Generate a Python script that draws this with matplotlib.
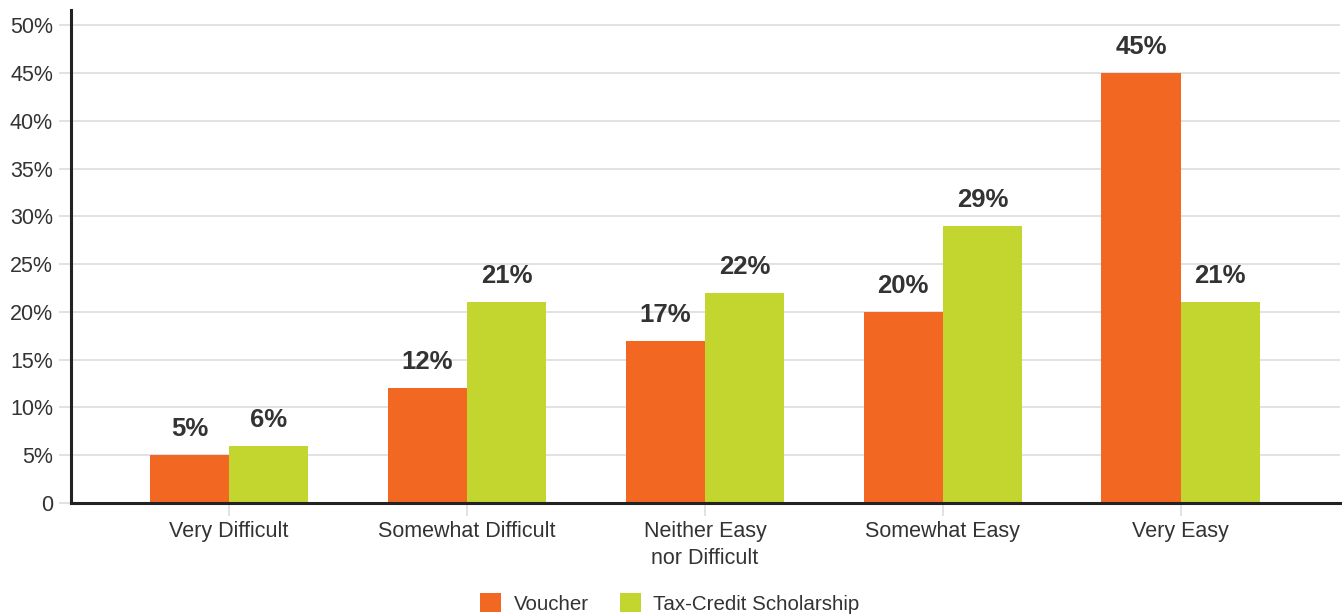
import matplotlib
matplotlib.use("Agg")
import matplotlib.pyplot as plt
import numpy as np

# ── Data ─────────────────────────────────────────────────────────────────────
CATEGORIES = ["Very Difficult", "Somewhat Difficult", "Neither Easy\nnor Difficult",
              "Somewhat Easy", "Very Easy"]
VOUCHER    = [5, 12, 17, 20, 45]
TAX_CREDIT = [6, 21, 22, 29, 21]
SERIES_NAMES = ["Voucher", "Tax-Credit Scholarship"]
Y_TICKS = [0, 5, 10, 15, 20, 25, 30, 35, 40, 45, 50]
Y_TICK_LABELS = ["0"] + [f"{v}%" for v in Y_TICKS[1:]]

# ── Style ────────────────────────────────────────────────────────────────────
COLOR_VOUCHER = "#F26722"
COLOR_TAX     = "#C3D52F"
COLOR_TEXT    = "#333333"
COLOR_GRID    = "#DDDDDD"
BAR_W         = 0.333

plt.rcParams["font.family"] = ["Liberation Sans", "DejaVu Sans"]

fig = plt.figure(figsize=(13.42, 6.16), dpi=100)
ax = fig.add_axes([0.0529, 0.1834, 0.9456, 0.8004])

x = np.arange(len(CATEGORIES))
b1 = ax.bar(x - BAR_W / 2, VOUCHER, BAR_W, color=COLOR_VOUCHER, label=SERIES_NAMES[0], zorder=3)
b2 = ax.bar(x + BAR_W / 2, TAX_CREDIT, BAR_W, color=COLOR_TAX, label=SERIES_NAMES[1], zorder=3)

for bars, vals in ((b1, VOUCHER), (b2, TAX_CREDIT)):
    for rect, v in zip(bars, vals):
        ax.annotate(f"{v}%", (rect.get_x() + rect.get_width() / 2, rect.get_height()),
                    xytext=(0, 10), textcoords="offset points", ha="center", va="bottom",
                    fontsize=18.5, fontweight="bold", color=COLOR_TEXT)

ax.set_xlim(-0.665, 4.67)
ax.set_ylim(0, 51.6)
ax.set_yticks(Y_TICKS)
ax.set_yticklabels(Y_TICK_LABELS)
ax.set_xticks(x)
ax.set_xticklabels(CATEGORIES, linespacing=1.35)
ax.tick_params(axis="both", colors=COLOR_GRID, length=9, width=1.2, labelsize=15.5,
               labelcolor=COLOR_TEXT, pad=4)
ax.tick_params(axis="x", pad=4)

ax.grid(True, axis="y", color=COLOR_GRID, linewidth=1.2, zorder=0)
ax.set_axisbelow(True)
for side in ("top", "right"):
    ax.spines[side].set_visible(False)
for side in ("left", "bottom"):
    ax.spines[side].set_color("#222222")
    ax.spines[side].set_linewidth(2.2)
    ax.spines[side].set_zorder(4)

fig.legend(loc="center", bbox_to_anchor=(0.499, 0.02), ncol=2, frameon=False,
           fontsize=14.8, handlelength=1.05, handleheight=1.05, columnspacing=1.5,
           handletextpad=0.6, labelcolor=COLOR_TEXT)

fig.savefig("out.png", dpi=100)
